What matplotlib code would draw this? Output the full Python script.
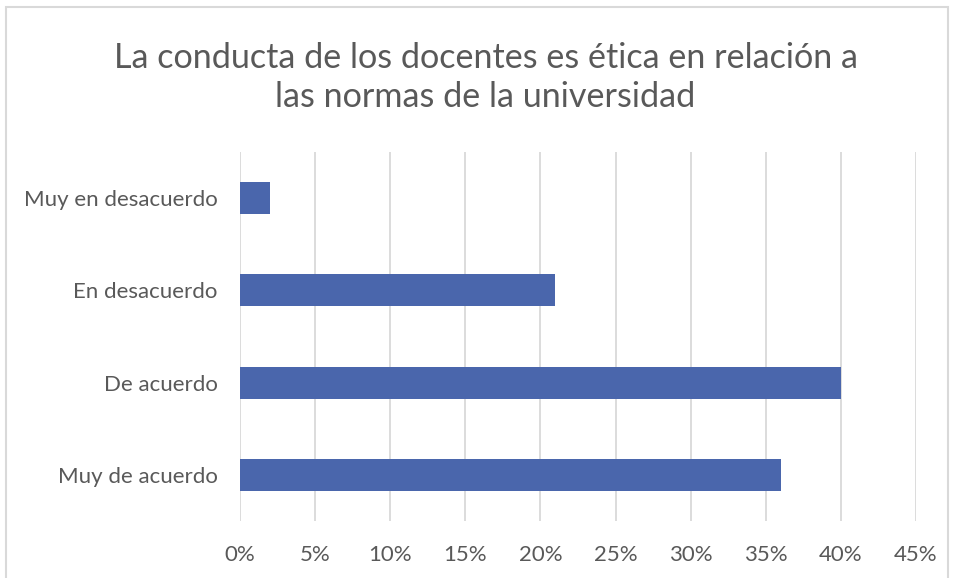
# Barras horizontales: conducta ética de los docentes

import matplotlib.pyplot as plt
from matplotlib.patches import Rectangle
from matplotlib.ticker import PercentFormatter

categorias = ['Muy en desacuerdo', 'En desacuerdo', 'De acuerdo', 'Muy de acuerdo']
valores = [2, 21, 40, 36]   # porcentaje
ticks_x = [0, 5, 10, 15, 20, 25, 30, 35, 40, 45]

gris_texto = '#595959'
gris_rejilla = '#d9d9d9'
azul = '#4a66ac'

plt.rcParams['font.family'] = ['Lato', 'DejaVu Sans']

fig = plt.figure(figsize=(9.54, 5.78), dpi=100)
ax = fig.add_axes([0.2516, 0.0986, 0.7086, 0.6384])

pos = list(range(len(categorias)))
ax.barh(pos, valores, height=0.345, color=azul, zorder=3)

ax.set_xlim(0, 45)
ax.set_ylim(len(categorias) - 0.5, -0.5)
ax.set_yticks(pos)
ax.set_yticklabels(categorias)
ax.set_xticks(ticks_x)
ax.xaxis.set_major_formatter(PercentFormatter(decimals=0))

ax.grid(axis='x', color=gris_rejilla, linewidth=1.3, zorder=0)
ax.tick_params(length=0, labelsize=16, colors=gris_texto)
ax.tick_params(axis='x', pad=17)
ax.tick_params(axis='y', pad=16)
for s in ax.spines.values():
    s.set_visible(False)

fig.text(0.509, 0.866, 'La conducta de los docentes es ética en relación a\nlas normas de la universidad',
         ha='center', va='center', fontsize=24.6, color=gris_texto, linespacing=1.27)

# marco del gráfico
fig.patches.append(Rectangle((0.006, -0.01), 0.988, 0.998, transform=fig.transFigure,
                             fill=False, edgecolor='#d9d9d9', linewidth=1.5))

fig.savefig('out.png', dpi=100)
